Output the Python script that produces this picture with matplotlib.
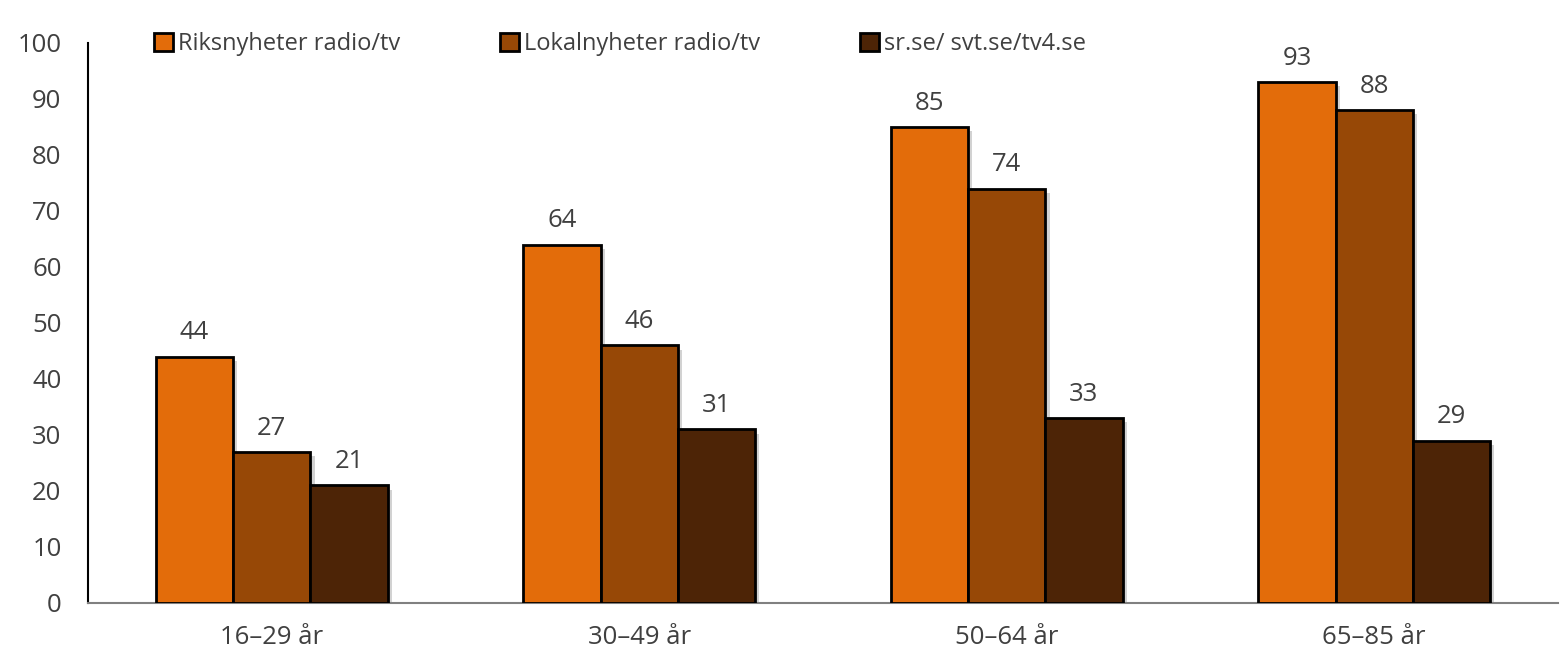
import matplotlib
matplotlib.use("Agg")
import matplotlib.pyplot as plt
import matplotlib.patheffects as pe
from matplotlib.patches import Patch
import numpy as np

categories = ["16–29 år", "30–49 år", "50–64 år", "65–85 år"]
series_names = ["Riksnyheter radio/tv", "Lokalnyheter radio/tv", "sr.se/ svt.se/tv4.se"]
riks = [44, 64, 85, 93]
lokal = [27, 46, 74, 88]
webb = [21, 31, 33, 29]
colors = ["#E36C0A", "#974806", "#4D2406"]
yticks = [0, 10, 20, 30, 40, 50, 60, 70, 80, 90, 100]

plt.rcParams['font.family'] = ['Open Sans', 'DejaVu Sans']
txt = "#404040"
fs = 18.5

fig = plt.figure(figsize=(15.62, 6.61), dpi=100)
ax = fig.add_axes([88/1562, (661-603)/661, (1558-88)/1562, (603-43)/661])

x = np.arange(len(categories))
w = 0.21
shadow = [pe.SimplePatchShadow(offset=(3, -3), shadow_rgbFace="#808080", alpha=0.35), pe.Normal()]
for i, (vals, c) in enumerate(zip([riks, lokal, webb], colors)):
    bars = ax.bar(x + (i - 1) * w, vals, w, color=c, edgecolor="black", linewidth=2.0,
                  path_effects=shadow, zorder=3)
    for b, v in zip(bars, vals):
        ax.annotate(str(v), (b.get_x() + b.get_width()/2, v), xytext=(0, 8),
                    textcoords="offset points", ha="center", va="bottom",
                    fontsize=fs, color=txt)

ax.set_xlim(-0.5, len(categories) - 0.5)
ax.set_ylim(0, 100)
ax.set_yticks(yticks)
ax.set_xticks(x)
ax.set_xticklabels(categories)
ax.tick_params(axis="both", length=0, labelsize=fs, labelcolor=txt)
ax.tick_params(axis="y", pad=19)
ax.tick_params(axis="x", pad=16)
for s in ["top", "right"]:
    ax.spines[s].set_visible(False)
ax.spines["left"].set_color("black")
ax.spines["left"].set_linewidth(1.5)
ax.spines["bottom"].set_color("#808080")
ax.spines["bottom"].set_linewidth(1.5)

handles = [Patch(facecolor=c, edgecolor="black", linewidth=2) for c in colors]
leg = ax.legend(handles, series_names, loc="center left", ncol=3, frameon=False, fontsize=17,
                handlelength=0.8, handleheight=0.8, handletextpad=0.2, columnspacing=4.25,
                labelcolor=txt, borderaxespad=0, borderpad=0)
leg.set_bbox_to_anchor((154/1562, 1 - 44/661), transform=fig.transFigure)

fig.savefig("out.png", dpi=100, facecolor="white")
